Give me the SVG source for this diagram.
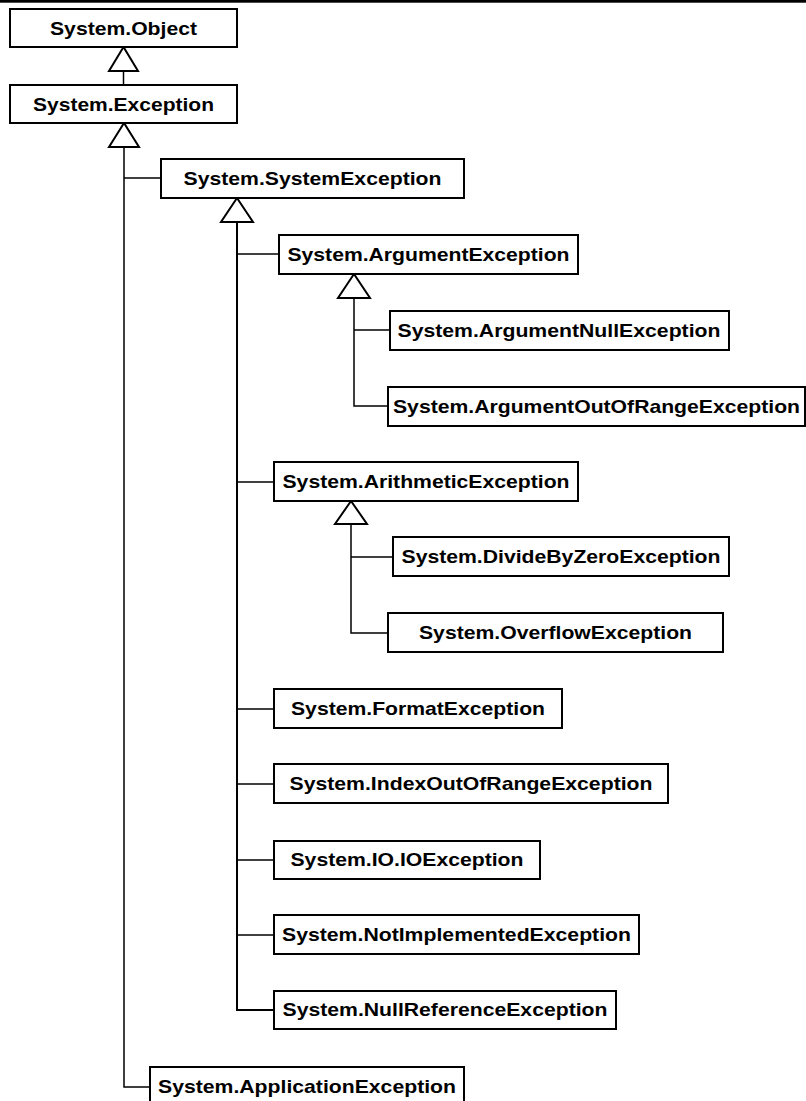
<svg xmlns="http://www.w3.org/2000/svg" width="806" height="1101" viewBox="0 0 806 1101">
<style>
.box rect{fill:#fff;stroke:#000;stroke-width:2}
.box text{font-family:"Liberation Sans",Arial,sans-serif;font-weight:bold;font-size:19px;fill:#000;text-anchor:middle}
.con{fill:none;stroke:#000;stroke-width:1.5}
.tri{fill:#fff;stroke:#000;stroke-width:2;stroke-linejoin:miter}
</style>
<rect x="0" y="0" width="806" height="2.7" fill="#000"/>
<g id="connectors">
<line class="con" x1="123.5" y1="71" x2="123.5" y2="85"/>
<polyline class="con" points="124,147 124,1087 150,1087"/>
<line class="con" x1="124" y1="178" x2="161" y2="178"/>
<polyline class="con" style="stroke-width:2" points="237,222 237,1010 274,1010"/>
<line class="con" x1="237" y1="254" x2="279" y2="254"/>
<line class="con" x1="237" y1="482" x2="274" y2="482"/>
<line class="con" x1="237" y1="709" x2="274" y2="709"/>
<line class="con" x1="237" y1="784" x2="274" y2="784"/>
<line class="con" x1="237" y1="860" x2="274" y2="860"/>
<line class="con" x1="237" y1="935" x2="274" y2="935"/>
<polyline class="con" points="354,298 354,406 388,406"/>
<line class="con" x1="354" y1="330" x2="390" y2="330"/>
<polyline class="con" points="351,524 351,633 388,633"/>
<line class="con" x1="351" y1="557" x2="393" y2="557"/>
<polygon class="tri" points="123.5,47 109,71 138,71"/>
<polygon class="tri" points="124,123 109,147 139,147"/>
<polygon class="tri" points="237,198 221,222 253,222"/>
<polygon class="tri" points="354,274 338,298 370,298"/>
<polygon class="tri" points="351,501 335,524 367,524"/>
</g>
<g id="n-object" class="box"><rect x="10" y="9" width="227" height="38"/><text x="123.5" y="35" textLength="147" lengthAdjust="spacingAndGlyphs">System.Object</text></g>
<g id="n-exception" class="box"><rect x="10" y="85" width="227" height="38"/><text x="123.5" y="111" textLength="181" lengthAdjust="spacingAndGlyphs">System.Exception</text></g>
<g id="n-systemexception" class="box"><rect x="161" y="159" width="303" height="39"/><text x="312.5" y="185" textLength="258" lengthAdjust="spacingAndGlyphs">System.SystemException</text></g>
<g id="n-argument" class="box"><rect x="279" y="235" width="299" height="39"/><text x="428.5" y="261" textLength="282" lengthAdjust="spacingAndGlyphs">System.ArgumentException</text></g>
<g id="n-argumentnull" class="box"><rect x="390" y="311" width="339" height="39"/><text x="559" y="337" textLength="323" lengthAdjust="spacingAndGlyphs">System.ArgumentNullException</text></g>
<g id="n-argumentoutofrange" class="box"><rect x="388" y="387" width="417" height="39"/><text x="596.5" y="413" textLength="407" lengthAdjust="spacingAndGlyphs">System.ArgumentOutOfRangeException</text></g>
<g id="n-arithmetic" class="box"><rect x="274" y="462" width="304" height="39"/><text x="426" y="488" textLength="287" lengthAdjust="spacingAndGlyphs">System.ArithmeticException</text></g>
<g id="n-dividebyzero" class="box"><rect x="393" y="537" width="336" height="39"/><text x="561" y="563" textLength="319" lengthAdjust="spacingAndGlyphs">System.DivideByZeroException</text></g>
<g id="n-overflow" class="box"><rect x="388" y="613" width="335" height="39"/><text x="555.5" y="639" textLength="273" lengthAdjust="spacingAndGlyphs">System.OverflowException</text></g>
<g id="n-format" class="box"><rect x="274" y="689" width="288" height="39"/><text x="418" y="715" textLength="254" lengthAdjust="spacingAndGlyphs">System.FormatException</text></g>
<g id="n-indexoutofrange" class="box"><rect x="274" y="764" width="394" height="39"/><text x="471" y="790" textLength="363" lengthAdjust="spacingAndGlyphs">System.IndexOutOfRangeException</text></g>
<g id="n-io" class="box"><rect x="274" y="841" width="266" height="38"/><text x="407" y="866" textLength="233" lengthAdjust="spacingAndGlyphs">System.IO.IOException</text></g>
<g id="n-notimplemented" class="box"><rect x="274" y="915" width="365" height="39"/><text x="456.5" y="941" textLength="349" lengthAdjust="spacingAndGlyphs">System.NotImplementedException</text></g>
<g id="n-nullreference" class="box"><rect x="274" y="991" width="342" height="38"/><text x="445" y="1016" textLength="325" lengthAdjust="spacingAndGlyphs">System.NullReferenceException</text></g>
<g id="n-application" class="box"><rect x="150" y="1067" width="314" height="39"/><text x="307" y="1093" textLength="298" lengthAdjust="spacingAndGlyphs">System.ApplicationException</text></g>
</svg>
